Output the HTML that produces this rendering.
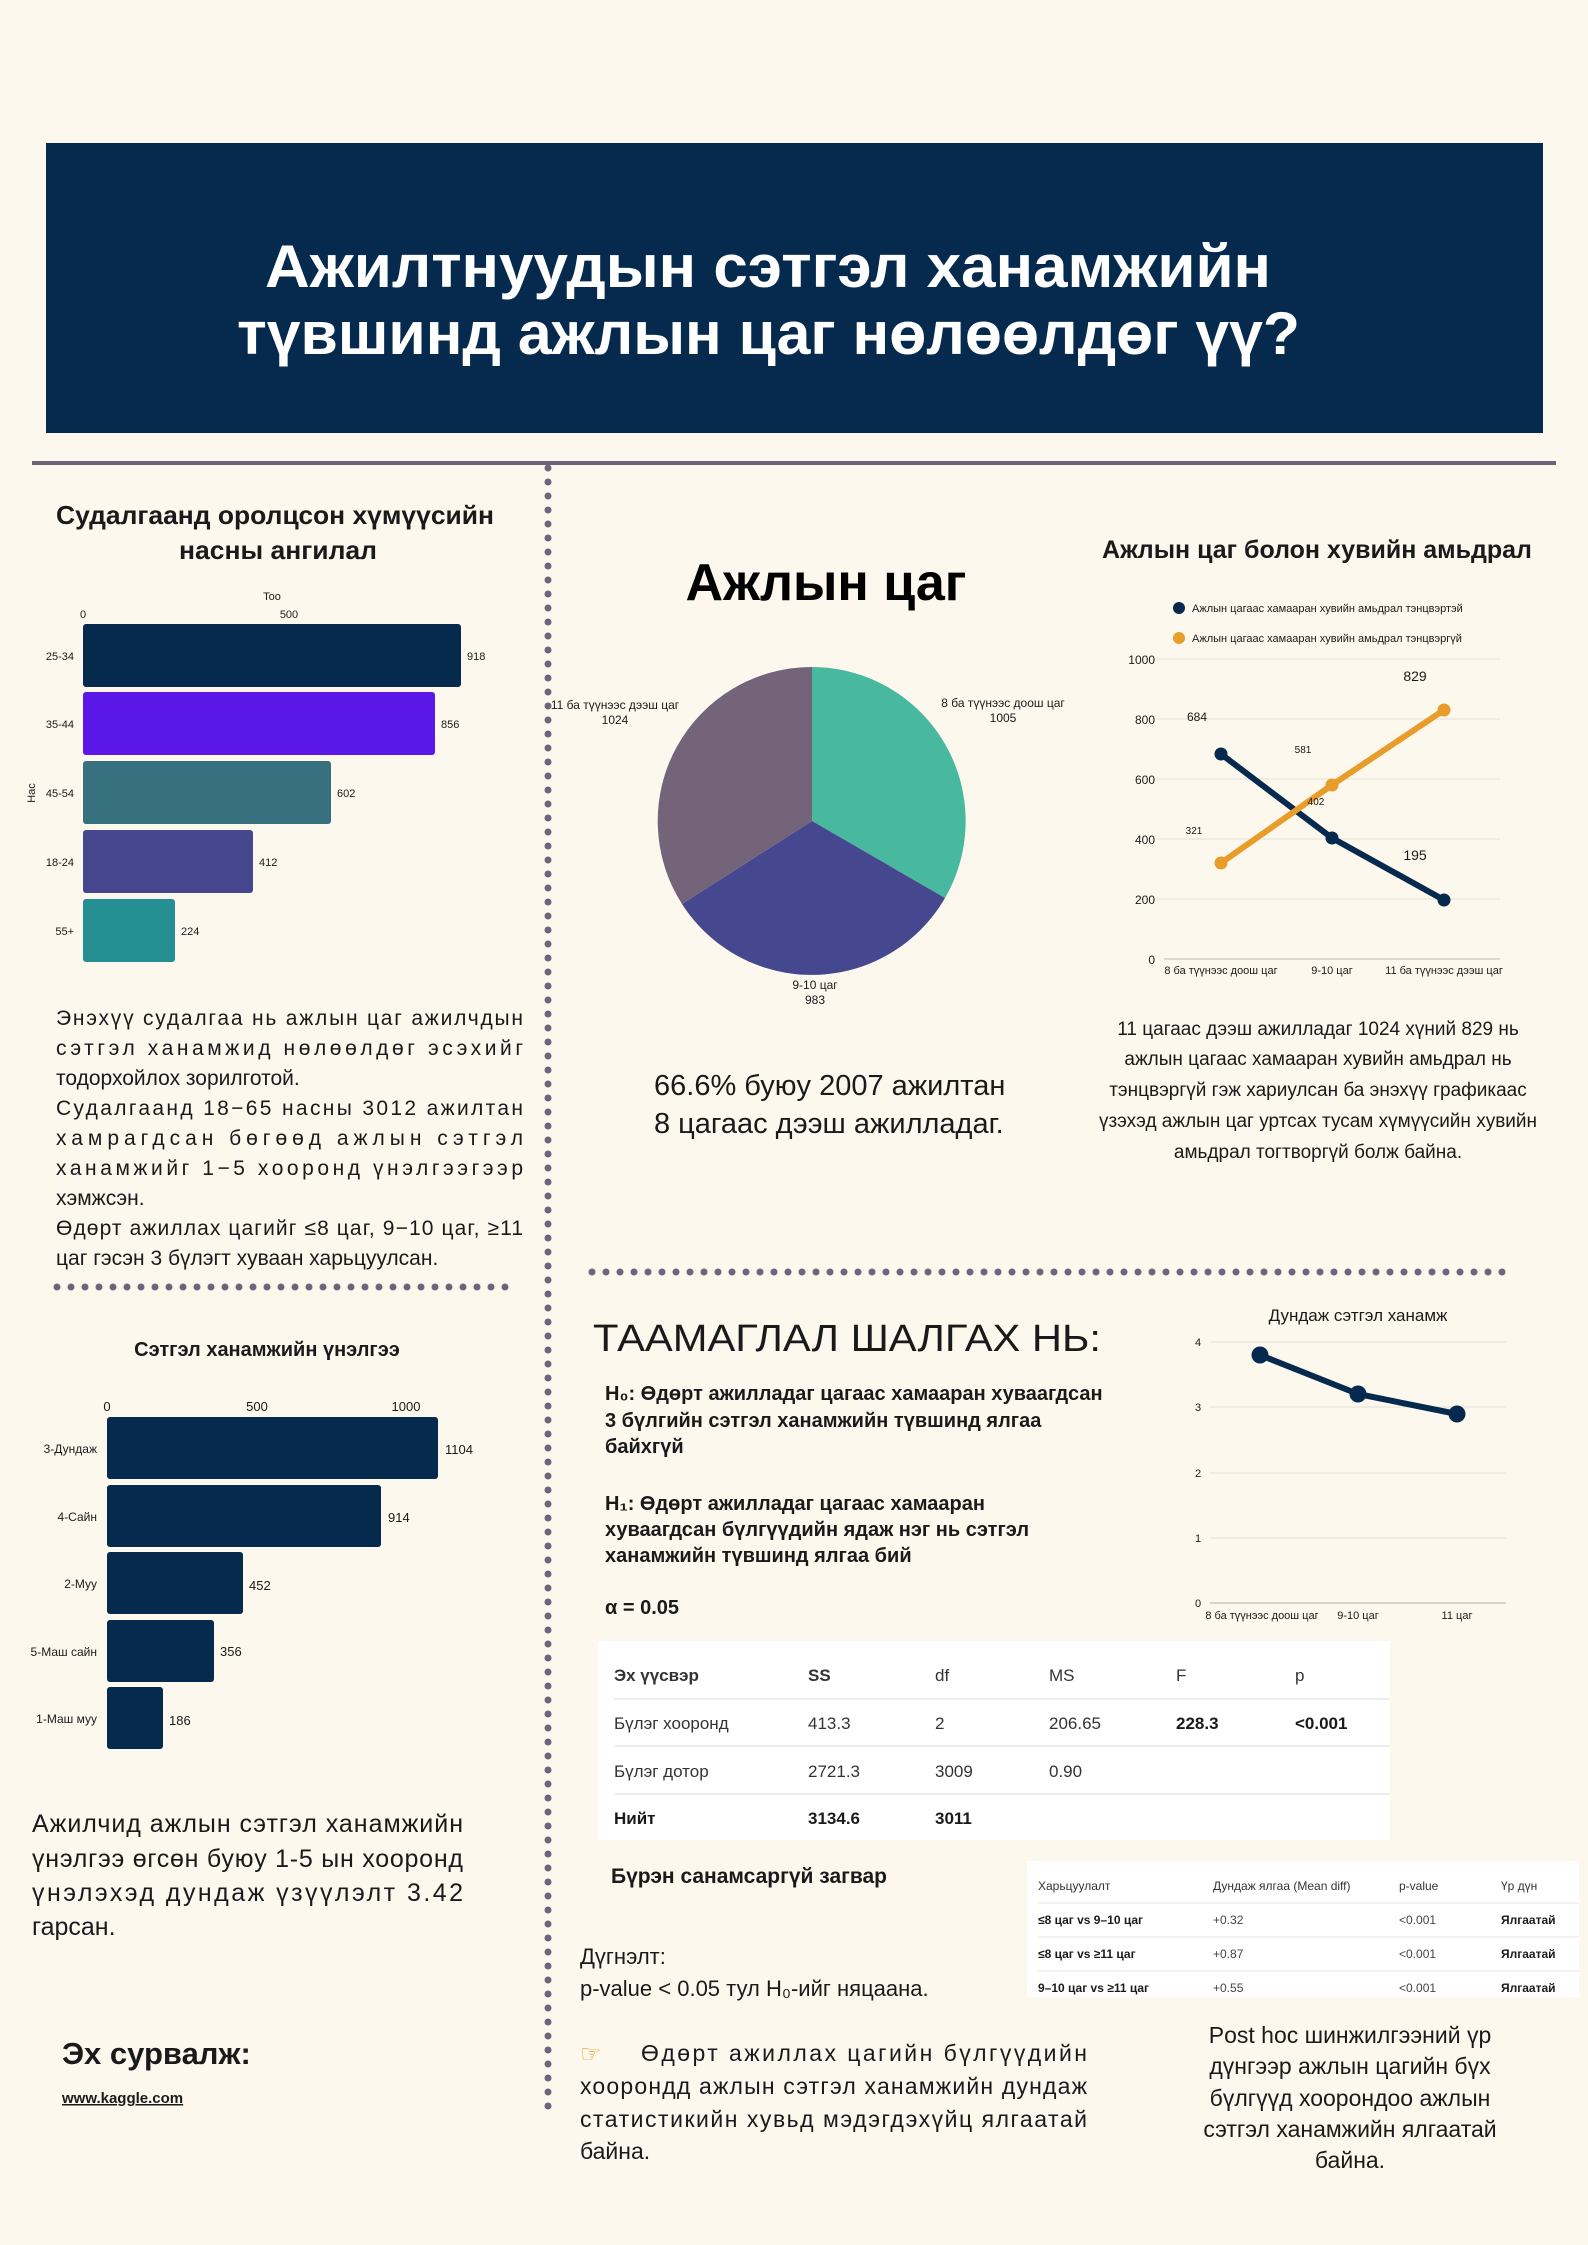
<!DOCTYPE html>
<html><head><meta charset="utf-8">
<style>
html,body{margin:0;padding:0;background:#fcf8ee;}
svg{display:block;}
text{font-family:"Liberation Sans","DejaVu Sans",sans-serif;fill:#1a1a1a;}
.n{font-family:"Liberation Sans Narrow","Liberation Sans",sans-serif;}
</style></head>
<body>
<svg width="1588" height="2245" viewBox="0 0 1588 2245" xmlns="http://www.w3.org/2000/svg">
<rect width="1588" height="2245" fill="#fcf8ee"/>
<!-- header -->
<rect x="46" y="143" width="1497" height="290" fill="#052a4e"/>
<text x="265" y="287" font-size="60" font-weight="bold" textLength="1006" lengthAdjust="spacingAndGlyphs" style="fill:#fff">Ажилтнуудын сэтгэл ханамжийн</text>
<text x="237" y="354" font-size="60" font-weight="bold" textLength="1063" lengthAdjust="spacingAndGlyphs" style="fill:#fff">түвшинд ажлын цаг нөлөөлдөг үү?</text>
<line x1="32" y1="463" x2="1556" y2="463" stroke="#6e6178" stroke-width="4"/>
<!-- dotted lines -->
<g stroke="#716478" stroke-width="7" stroke-linecap="round" stroke-dasharray="0 14">
<line x1="548" y1="468" x2="548" y2="2113"/>
<line x1="57" y1="1287" x2="516" y2="1287"/>
<line x1="592" y1="1272" x2="1512" y2="1272"/>
</g>

<!-- age chart -->
<text x="56" y="524" font-size="26" font-weight="bold" textLength="438" lengthAdjust="spacingAndGlyphs">Судалгаанд оролцсон хүмүүсийн</text>
<text x="179" y="559" font-size="26" font-weight="bold" textLength="198" lengthAdjust="spacingAndGlyphs">насны ангилал</text>
<text x="272" y="600" text-anchor="middle" font-size="11">Too</text>
<text x="83" y="618" text-anchor="middle" font-size="11">0</text>
<text x="289" y="618" text-anchor="middle" font-size="11">500</text>
<text transform="translate(35,793) rotate(-90)" text-anchor="middle" font-size="11">Нас</text>
<g font-size="11">
<rect x="83" y="624" width="378" height="63" rx="3" fill="#052a4e"/>
<text x="74" y="660" text-anchor="end">25-34</text><text x="467" y="660">918</text>
<rect x="83" y="692" width="352" height="63" rx="3" fill="#5b17e8"/>
<text x="74" y="728" text-anchor="end">35-44</text><text x="441" y="728">856</text>
<rect x="83" y="761" width="248" height="63" rx="3" fill="#37707e"/>
<text x="74" y="797" text-anchor="end">45-54</text><text x="337" y="797">602</text>
<rect x="83" y="830" width="170" height="63" rx="3" fill="#45478f"/>
<text x="74" y="866" text-anchor="end">18-24</text><text x="259" y="866">412</text>
<rect x="83" y="899" width="92" height="63" rx="3" fill="#258f93"/>
<text x="74" y="935" text-anchor="end">55+</text><text x="181" y="935">224</text>
</g>

<!-- left paragraph -->
<g font-size="21">
<text x="56" y="1025" textLength="467" lengthAdjust="spacing">Энэхүү судалгаа нь ажлын цаг ажилчдын</text>
<text x="56" y="1055" textLength="467" lengthAdjust="spacing">сэтгэл ханамжид нөлөөлдөг эсэхийг</text>
<text x="56" y="1085">тодорхойлох зорилготой.</text>
<text x="56" y="1115" textLength="467" lengthAdjust="spacing">Судалгаанд 18−65 насны 3012 ажилтан</text>
<text x="56" y="1145" textLength="467" lengthAdjust="spacing">хамрагдсан бөгөөд ажлын сэтгэл</text>
<text x="56" y="1175" textLength="467" lengthAdjust="spacing">ханамжийг 1−5 хооронд үнэлгээгээр</text>
<text x="56" y="1205">хэмжсэн.</text>
<text x="56" y="1235" textLength="467" lengthAdjust="spacing">Өдөрт ажиллах цагийг ≤8 цаг, 9−10 цаг, ≥11</text>
<text x="56" y="1265">цаг гэсэн 3 бүлэгт хуваан харьцуулсан.</text>
</g>

<!-- satisfaction chart -->
<text x="267" y="1356" text-anchor="middle" font-size="20" font-weight="bold">Сэтгэл ханамжийн үнэлгээ</text>
<g font-size="13">
<text x="107" y="1411" text-anchor="middle">0</text>
<text x="257" y="1411" text-anchor="middle">500</text>
<text x="406" y="1411" text-anchor="middle">1000</text>
<rect x="107" y="1417" width="331" height="62" rx="3" fill="#052a4e"/>
<text x="97" y="1453" text-anchor="end" font-size="12">3-Дундаж</text><text x="445" y="1454">1104</text>
<rect x="107" y="1485" width="274" height="62" rx="3" fill="#052a4e"/>
<text x="97" y="1521" text-anchor="end" font-size="12">4-Сайн</text><text x="388" y="1522">914</text>
<rect x="107" y="1552" width="136" height="62" rx="3" fill="#052a4e"/>
<text x="97" y="1588" text-anchor="end" font-size="12">2-Муу</text><text x="249" y="1590">452</text>
<rect x="107" y="1620" width="107" height="62" rx="3" fill="#052a4e"/>
<text x="97" y="1656" text-anchor="end" font-size="12">5-Маш сайн</text><text x="220" y="1656">356</text>
<rect x="107" y="1687" width="56" height="62" rx="3" fill="#052a4e"/>
<text x="97" y="1723" text-anchor="end" font-size="12">1-Маш муу</text><text x="169" y="1725">186</text>
</g>
<g font-size="25">
<text x="32" y="1832" textLength="431" lengthAdjust="spacing">Ажилчид ажлын сэтгэл ханамжийн</text>
<text x="32" y="1867" textLength="431" lengthAdjust="spacing">үнэлгээ өгсөн буюу 1-5 ын хооронд</text>
<text x="32" y="1901" textLength="431" lengthAdjust="spacing">үнэлэхэд дундаж үзүүлэлт 3.42</text>
<text x="32" y="1935">гарсан.</text>
</g>
<text x="62" y="2064" font-size="31" font-weight="bold">Эх сурвалж:</text>
<text x="62" y="2103" font-size="15" font-weight="bold" text-decoration="underline">www.kaggle.com</text>

<!-- pie -->
<text x="826" y="600" text-anchor="middle" font-size="52" font-weight="bold" style="fill:#000">Ажлын цаг</text>
<path d="M812,821 L812,667 A154,154 0 0 1 945,898 Z" fill="#48b89f"/>
<path d="M812,821 L945,898 A154,154 0 0 1 682,904 Z" fill="#45478f"/>
<path d="M812,821 L682,904 A154,154 0 0 1 812,667 Z" fill="#73647a"/>
<g font-size="12" text-anchor="middle">
<text x="1003" y="707">8 ба түүнээс доош цаг</text><text x="1003" y="722">1005</text>
<text x="615" y="709">11 ба түүнээс дээш цаг</text><text x="615" y="724">1024</text>
<text x="815" y="989">9-10 цаг</text><text x="815" y="1004">983</text>
</g>
<text x="654" y="1095" font-size="29">66.6% буюу 2007 ажилтан</text>
<text x="654" y="1133" font-size="29">8 цагаас дээш ажилладаг.</text>

<!-- line chart right -->
<text x="1317" y="558" text-anchor="middle" font-size="25" font-weight="bold">Ажлын цаг болон хувийн амьдрал</text>
<circle cx="1179" cy="608" r="6" fill="#052a4e"/>
<text x="1192" y="612" font-size="11">Ажлын цагаас хамааран хувийн амьдрал тэнцвэртэй</text>
<circle cx="1179" cy="638" r="6" fill="#e89c2a"/>
<text x="1192" y="642" font-size="11">Ажлын цагаас хамааран хувийн амьдрал тэнцвэргүй</text>
<g stroke="#e6e1d6" stroke-width="1">
<line x1="1156" y1="659" x2="1500" y2="659"/><line x1="1156" y1="719" x2="1500" y2="719"/>
<line x1="1156" y1="779" x2="1500" y2="779"/><line x1="1156" y1="839" x2="1500" y2="839"/>
<line x1="1156" y1="899" x2="1500" y2="899"/>
</g>
<line x1="1164" y1="959" x2="1500" y2="959" stroke="#d6d0c4" stroke-width="1.5"/>
<g font-size="12" text-anchor="end">
<text x="1155" y="664">1000</text><text x="1155" y="724">800</text><text x="1155" y="784">600</text>
<text x="1155" y="844">400</text><text x="1155" y="904">200</text><text x="1155" y="964">0</text>
</g>
<g font-size="11" text-anchor="middle">
<text x="1221" y="974">8 ба түүнээс доош цаг</text><text x="1332" y="974">9-10 цаг</text><text x="1444" y="974">11 ба түүнээс дээш цаг</text>
</g>
<polyline points="1221,754 1332,838 1444,900" fill="none" stroke="#052a4e" stroke-width="6" stroke-linejoin="round"/>
<polyline points="1221,863 1332,785 1444,710" fill="none" stroke="#e89c2a" stroke-width="6" stroke-linejoin="round"/>
<circle cx="1221" cy="754" r="6.5" fill="#052a4e"/><circle cx="1332" cy="838" r="6.5" fill="#052a4e"/><circle cx="1444" cy="900" r="6.5" fill="#052a4e"/>
<circle cx="1221" cy="863" r="6.5" fill="#e89c2a"/><circle cx="1332" cy="785" r="6.5" fill="#e89c2a"/><circle cx="1444" cy="710" r="6.5" fill="#e89c2a"/>
<g text-anchor="middle">
<text x="1197" y="721" font-size="12">684</text>
<text x="1303" y="753" font-size="10">581</text>
<text x="1316" y="805" font-size="10">402</text>
<text x="1194" y="834" font-size="10">321</text>
<text x="1415" y="681" font-size="14">829</text>
<text x="1415" y="860" font-size="14">195</text>
</g>
<g font-size="19" text-anchor="middle">
<text x="1318" y="1035">11 цагаас дээш ажилладаг 1024 хүний 829 нь</text>
<text x="1318" y="1065">ажлын цагаас хамааран хувийн амьдрал нь</text>
<text x="1318" y="1096">тэнцвэргүй гэж хариулсан ба энэхүү графикаас</text>
<text x="1318" y="1127">үзэхэд ажлын цаг уртсах тусам хүмүүсийн хувийн</text>
<text x="1318" y="1158">амьдрал тогтворгүй болж байна.</text>
</g>

<!-- hypothesis -->
<text x="593" y="1351" font-size="38" textLength="508" lengthAdjust="spacingAndGlyphs">ТААМАГЛАЛ ШАЛГАХ НЬ:</text>
<g font-size="20" font-weight="bold">
<text x="605" y="1400">H₀:  Өдөрт ажилладаг цагаас хамааран хуваагдсан</text>
<text x="605" y="1427">3 бүлгийн сэтгэл ханамжийн түвшинд ялгаа</text>
<text x="605" y="1453">байхгүй</text>
<text x="605" y="1510">H₁: Өдөрт ажилладаг цагаас хамааран</text>
<text x="605" y="1536">хуваагдсан бүлгүүдийн  ядаж нэг нь сэтгэл</text>
<text x="605" y="1562">ханамжийн түвшинд ялгаа бий</text>
<text x="605" y="1614">α = 0.05</text>
</g>

<!-- small line chart -->
<text x="1358" y="1321" text-anchor="middle" font-size="17">Дундаж сэтгэл ханамж</text>
<g stroke="#e6e1d6" stroke-width="1">
<line x1="1210" y1="1342" x2="1506" y2="1342"/><line x1="1210" y1="1407" x2="1506" y2="1407"/>
<line x1="1210" y1="1473" x2="1506" y2="1473"/><line x1="1210" y1="1538" x2="1506" y2="1538"/>
</g>
<line x1="1210" y1="1603" x2="1506" y2="1603" stroke="#cfc8bb" stroke-width="1.5"/>
<g font-size="11" text-anchor="middle">
<text x="1198" y="1346">4</text><text x="1198" y="1411">3</text><text x="1198" y="1477">2</text>
<text x="1198" y="1542">1</text><text x="1198" y="1607">0</text>
<text x="1262" y="1619">8 ба түүнээс доош цаг</text><text x="1358" y="1619">9-10 цаг</text><text x="1457" y="1619">11 цаг</text>
</g>
<polyline points="1260,1355 1358,1394 1457,1414" fill="none" stroke="#052a4e" stroke-width="6" stroke-linejoin="round"/>
<circle cx="1260" cy="1355" r="8.5" fill="#052a4e"/><circle cx="1358" cy="1394" r="8.5" fill="#052a4e"/><circle cx="1457" cy="1414" r="8.5" fill="#052a4e"/>

<!-- ANOVA table -->
<rect x="598" y="1641" width="792" height="199" fill="#ffffff"/>
<g stroke="#eeeeee" stroke-width="2">
<line x1="614" y1="1699" x2="1390" y2="1699"/><line x1="614" y1="1746" x2="1390" y2="1746"/><line x1="614" y1="1794" x2="1390" y2="1794"/>
</g>
<g class="n" font-size="17">
<text class="n" x="614" y="1681" font-weight="bold" style="fill:#333">Эх үүсвэр</text><text class="n" x="808" y="1681" font-weight="bold" style="fill:#333">SS</text><text class="n" x="935" y="1681" style="fill:#333">df</text><text class="n" x="1049" y="1681" style="fill:#333">MS</text><text class="n" x="1176" y="1681" style="fill:#333">F</text><text class="n" x="1295" y="1681" style="fill:#333">p</text>
<text class="n" x="614" y="1729" style="fill:#333">Бүлэг хооронд</text><text class="n" x="808" y="1729" style="fill:#333">413.3</text><text class="n" x="935" y="1729" style="fill:#333">2</text><text class="n" x="1049" y="1729" style="fill:#333">206.65</text><text class="n" x="1176" y="1729" font-weight="bold">228.3</text><text class="n" x="1295" y="1729" font-weight="bold">&lt;0.001</text>
<text class="n" x="614" y="1777" style="fill:#333">Бүлэг дотор</text><text class="n" x="808" y="1777" style="fill:#333">2721.3</text><text class="n" x="935" y="1777" style="fill:#333">3009</text><text class="n" x="1049" y="1777" style="fill:#333">0.90</text>
<text class="n" x="614" y="1824" font-weight="bold">Нийт</text><text class="n" x="808" y="1824" font-weight="bold">3134.6</text><text class="n" x="935" y="1824" font-weight="bold">3011</text>
</g>
<text class="n" x="611" y="1883" font-size="21" font-weight="bold">Бүрэн санамсаргүй загвар</text>

<!-- post hoc table -->
<rect x="1027" y="1861" width="552" height="136" fill="#ffffff"/>
<g stroke="#eeeeee" stroke-width="1.5">
<line x1="1038" y1="1903" x2="1579" y2="1903"/><line x1="1038" y1="1937" x2="1579" y2="1937"/><line x1="1038" y1="1971" x2="1579" y2="1971"/>
</g>
<g font-size="12">
<text class="n" x="1038" y="1890" style="fill:#333">Харьцуулалт</text><text class="n" x="1213" y="1890" style="fill:#333">Дундаж ялгаа (Mean diff)</text><text class="n" x="1399" y="1890" style="fill:#333">p-value</text><text class="n" x="1501" y="1890" style="fill:#333">Үр дүн</text>
<text class="n" x="1038" y="1924" font-weight="bold">≤8 цаг vs 9–10 цаг</text><text class="n" x="1213" y="1924" style="fill:#444">+0.32</text><text class="n" x="1399" y="1924" style="fill:#444">&lt;0.001</text><text class="n" x="1501" y="1924" font-weight="bold">Ялгаатай</text>
<text class="n" x="1038" y="1958" font-weight="bold">≤8 цаг vs ≥11 цаг</text><text class="n" x="1213" y="1958" style="fill:#444">+0.87</text><text class="n" x="1399" y="1958" style="fill:#444">&lt;0.001</text><text class="n" x="1501" y="1958" font-weight="bold">Ялгаатай</text>
<text class="n" x="1038" y="1992" font-weight="bold">9–10 цаг vs ≥11 цаг</text><text class="n" x="1213" y="1992" style="fill:#444">+0.55</text><text class="n" x="1399" y="1992" style="fill:#444">&lt;0.001</text><text class="n" x="1501" y="1992" font-weight="bold">Ялгаатай</text>
</g>

<!-- conclusion -->
<text x="580" y="1964" font-size="22">Дүгнэлт:</text>
<text x="580" y="1996" font-size="22">p-value &lt; 0.05 тул H₀-ийг няцаана.</text>
<text x="580" y="2062" font-size="24" style="fill:#f0a020">☞</text>
<g font-size="23">
<text x="641" y="2061" textLength="446" lengthAdjust="spacing">Өдөрт ажиллах цагийн бүлгүүдийн</text>
<text x="580" y="2094" textLength="507" lengthAdjust="spacing">хоорондд ажлын сэтгэл ханамжийн дундаж</text>
<text x="580" y="2127" textLength="507" lengthAdjust="spacing">статистикийн хувьд мэдэгдэхүйц ялгаатай</text>
<text x="580" y="2159">байна.</text>
</g>
<g font-size="23" text-anchor="middle">
<text x="1350" y="2043">Post hoc шинжилгээний үр</text>
<text x="1350" y="2074">дүнгээр ажлын цагийн бүх</text>
<text x="1350" y="2106">бүлгүүд хоорондоо ажлын</text>
<text x="1350" y="2137">сэтгэл ханамжийн ялгаатай</text>
<text x="1350" y="2168">байна.</text>
</g>
</svg>
</body></html>
